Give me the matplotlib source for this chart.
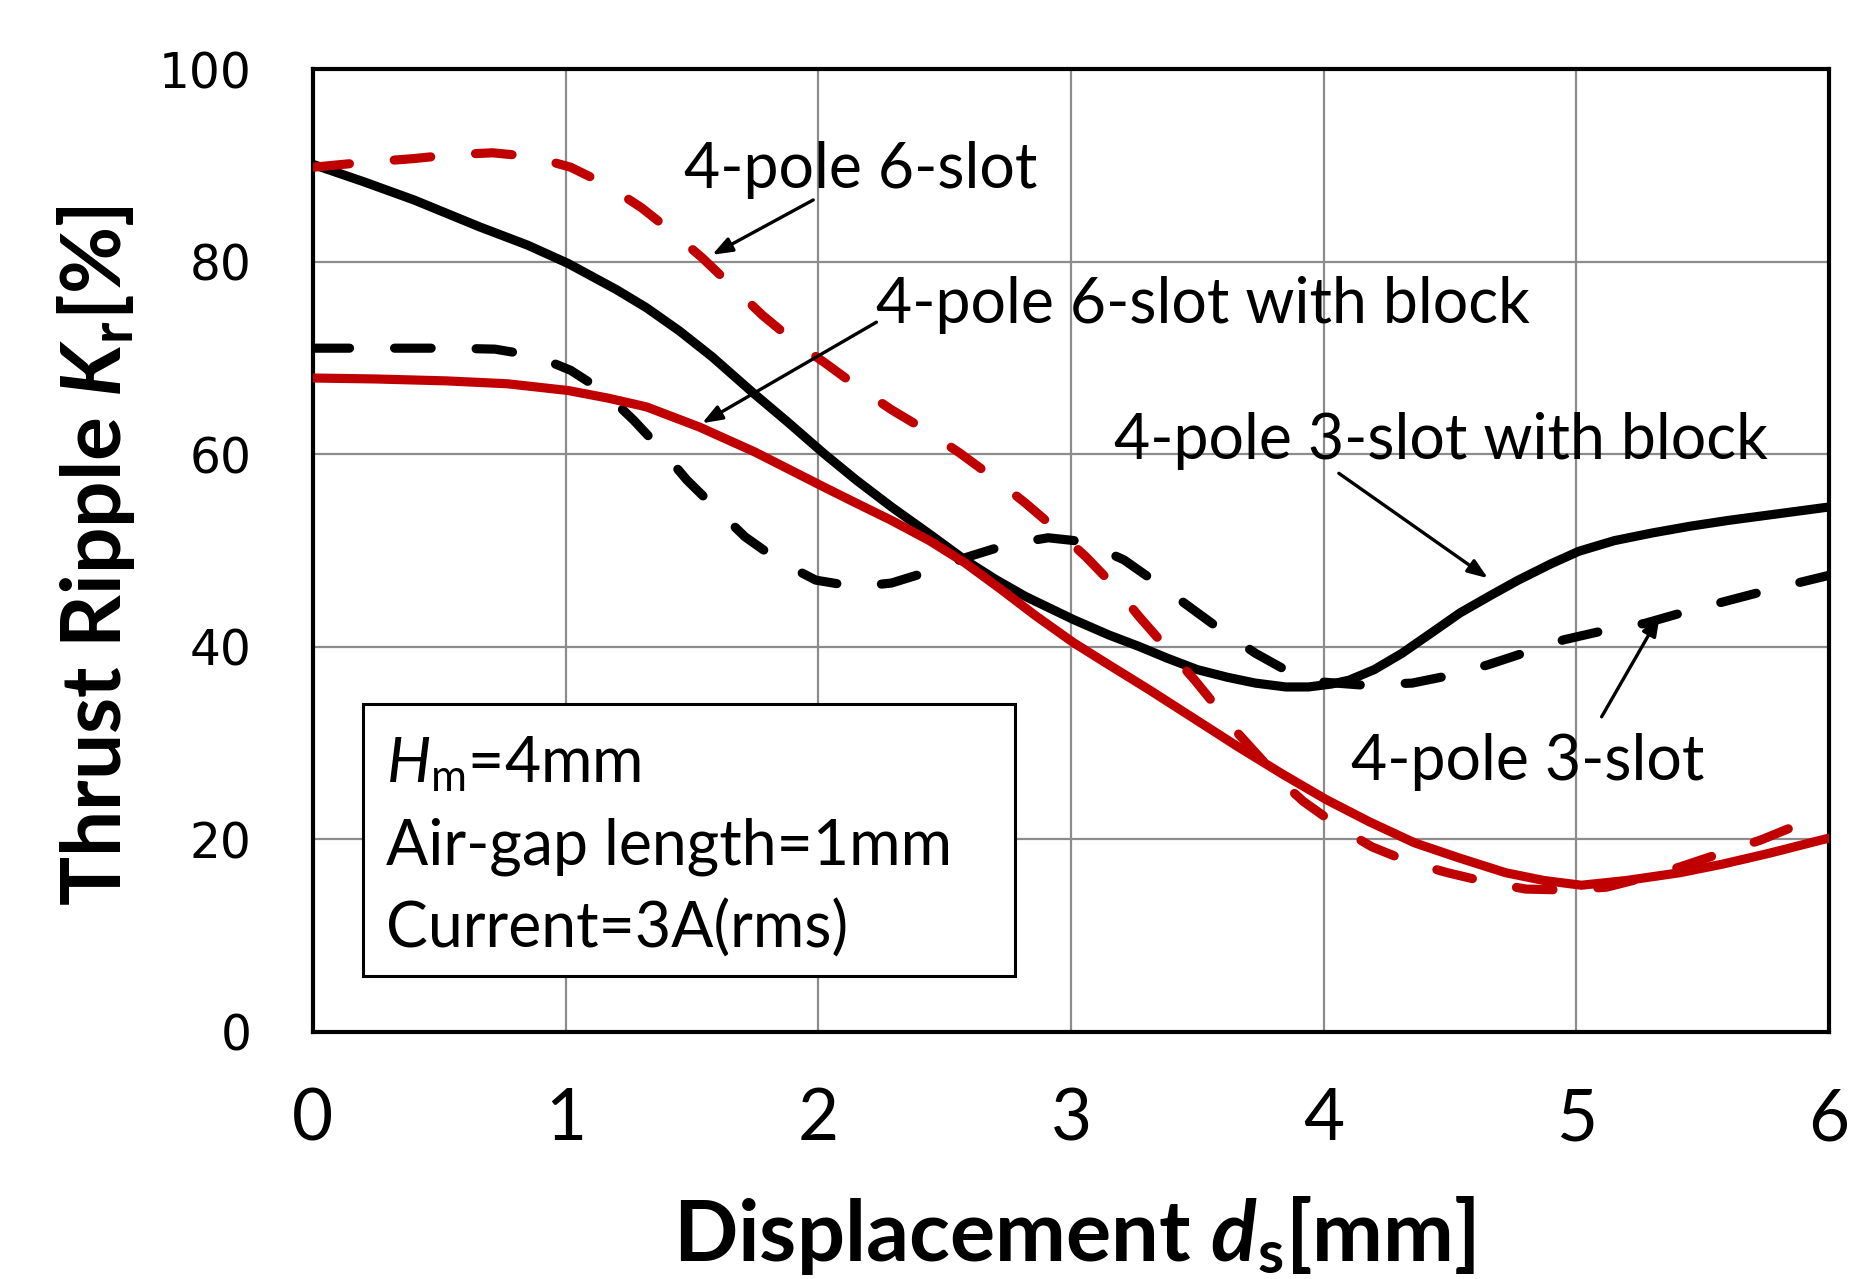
import matplotlib
matplotlib.use("Agg")
import matplotlib.pyplot as plt
from matplotlib import font_manager
from matplotlib.patches import Rectangle

names = {f.name for f in font_manager.fontManager.ttflist}
MAIN = "Lato" if "Lato" in names else "DejaVu Sans"

plt.rcParams['font.family'] = [MAIN, 'DejaVu Sans']
plt.rcParams['mathtext.fontset'] = 'custom'
plt.rcParams['mathtext.rm'] = MAIN
plt.rcParams['mathtext.it'] = MAIN + ':italic'
plt.rcParams['mathtext.bf'] = MAIN + ':bold'
plt.rcParams['mathtext.bfit'] = MAIN + ':bold:italic'

# ---- data ----
# 4-pole 3-slot with block (black solid)
x_3slot_block = [0, 0.2, 0.4, 0.66, 0.85, 1.01, 1.2, 1.32, 1.45, 1.58, 1.74, 1.88, 2.02, 2.15,
                 2.29, 2.45, 2.58, 2.7, 2.82, 3.01, 3.15, 3.27, 3.38, 3.5, 3.62, 3.73, 3.85,
                 3.94, 4.03, 4.1, 4.2, 4.31, 4.42, 4.54, 4.66, 4.77, 4.9, 5.01, 5.15, 5.3,
                 5.45, 5.6, 5.8, 6.0]
y_3slot_block = [90.1, 88.3, 86.4, 83.6, 81.7, 79.8, 77.1, 75.2, 72.8, 70.1, 66.4, 63.3, 60.1, 57.3,
                 54.5, 51.5, 49.0, 47.0, 45.2, 42.8, 41.2, 40.0, 38.8, 37.6, 36.8, 36.2, 35.8,
                 35.8, 36.1, 36.5, 37.6, 39.3, 41.3, 43.5, 45.3, 46.9, 48.6, 49.9, 51.0, 51.8,
                 52.5, 53.1, 53.8, 54.5]

# 4-pole 3-slot (black dashed)
x_3slot = [0, 0.3, 0.55, 0.72, 0.88, 1.02, 1.15, 1.27, 1.38, 1.48, 1.6, 1.71, 1.85, 1.99, 2.15,
           2.29, 2.45, 2.59, 2.75, 2.91, 3.05, 3.21, 3.34, 3.47, 3.6, 3.73, 3.86, 4.0, 4.15,
           4.35, 4.5, 4.65, 4.8, 4.95, 5.1, 5.27, 5.43, 5.59, 5.75, 5.89, 6.0]
y_3slot = [71.0, 71.0, 71.0, 70.9, 70.2, 68.7, 66.5, 63.5, 60.4, 57.3, 54.2, 51.4, 48.8, 46.9, 46.2,
           46.6, 47.9, 49.3, 50.6, 51.3, 50.9, 49.0, 46.6, 44.1, 41.6, 39.3, 37.4, 36.3, 36.0,
           36.2, 37.0, 38.1, 39.4, 40.7, 41.6, 42.4, 43.6, 44.7, 45.8, 46.7, 47.4]

# 4-pole 6-slot (red dashed)
x_6slot = [0, 0.2, 0.4, 0.55, 0.71, 0.87, 1.02, 1.16, 1.3, 1.42, 1.54, 1.66, 1.78, 1.9, 2.03,
           2.16, 2.29, 2.43, 2.56, 2.69, 2.82, 2.94, 3.06, 3.17, 3.27, 3.38, 3.49, 3.58, 3.66,
           3.75, 3.84, 3.92, 4.0, 4.1, 4.19, 4.34, 4.49, 4.65, 4.8, 4.96, 5.12, 5.27, 5.41,
           5.57, 5.73, 5.87, 6.0]
y_6slot = [89.8, 90.3, 90.7, 91.1, 91.3, 90.9, 89.8, 88.0, 85.6, 83.1, 80.4, 77.4, 74.4, 71.8, 69.4,
           66.9, 64.6, 62.4, 60.1, 57.6, 54.9, 52.2, 49.3, 46.3, 43.1, 39.8, 36.5, 33.6, 31.0,
           28.4, 25.8, 23.9, 22.4, 20.6, 19.2, 17.6, 16.5, 15.5, 14.8, 14.7, 15.0, 16.0, 17.1,
           18.5, 19.9, 21.4, 22.9]

# 4-pole 6-slot with block (red solid)
x_6slot_block = [0, 0.25, 0.53, 0.77, 1.01, 1.17, 1.32, 1.53, 1.75, 2.02, 2.15, 2.29, 2.44, 2.58,
                 2.72, 2.86, 3.01, 3.15, 3.31, 3.5, 3.66, 3.84, 4.01, 4.18, 4.36, 4.54, 4.72,
                 4.87, 5.02, 5.2, 5.41, 5.58, 5.76, 6.0]
y_6slot_block = [67.9, 67.8, 67.6, 67.3, 66.6, 65.8, 64.9, 62.8, 60.2, 56.6, 54.9, 53.1, 51.0, 48.7,
                 46.0, 43.2, 40.4, 38.1, 35.5, 32.3, 29.6, 26.7, 24.1, 21.8, 19.6, 18.0, 16.5,
                 15.7, 15.2, 15.7, 16.5, 17.4, 18.5, 20.1]

x_ticks = [0, 1, 2, 3, 4, 5, 6]
y_ticks = [0, 20, 40, 60, 80, 100]

RED = "#C00000"

fig = plt.figure(figsize=(18.66, 12.79), dpi=100)
ax = fig.add_axes([0.1677, 0.1935, 0.8125, 0.7525])

lw = 6.6
dash = (4.0, 4.9)
ax.plot(x_3slot_block, y_3slot_block, color="black", lw=lw, solid_capstyle='round',
        solid_joinstyle='round', zorder=4)
ax.plot(x_3slot, y_3slot, color="black", lw=lw, dashes=dash, dash_capstyle='round',
        dash_joinstyle='round', zorder=4)
ax.plot(x_6slot, y_6slot, color=RED, lw=lw, dashes=dash, dash_capstyle='round',
        dash_joinstyle='round', zorder=4)
ax.plot(x_6slot_block, y_6slot_block, color=RED, lw=lw, solid_capstyle='round',
        solid_joinstyle='round', zorder=4)

ax.set_xlim(0, 6)
ax.set_ylim(0, 100)
ax.set_xticks(x_ticks)
ax.set_yticks(y_ticks)
ax.set_xticklabels([str(v) for v in x_ticks], fontsize=51)
ax.set_yticklabels([str(v) for v in y_ticks], fontfamily='DejaVu Sans', fontsize=35)
ax.tick_params(axis='both', length=0)
ax.tick_params(axis='x', pad=40)
ax.tick_params(axis='y', pad=44)
ax.grid(True, color="#8c8c8c", lw=1.6, zorder=0)
ax.set_axisbelow(True)
for s in ax.spines.values():
    s.set_linewidth(3.0)
    s.set_color("black")

ax.set_xlabel(r"Displacement $\mathbfit{d}_\mathbf{s}$[mm]", fontsize=61, fontweight='bold',
              va='baseline')
ax.xaxis.set_label_coords(0.502, -0.238)
ax.set_ylabel(r"Thrust Ripple $\mathbfit{K}_\mathbf{r}$[%]", fontsize=59, fontweight='bold',
              va='center')
ax.yaxis.set_label_coords(-0.143, 0.494)

# info box
ax.add_patch(Rectangle((0.2, 5.8), 2.58, 28.2, facecolor="white", edgecolor="black", lw=2.2, zorder=3))
box_fs = 45
ax.text(0.29, 27.8, r"$H_\mathrm{m}$=4mm", fontsize=box_fs, va='center', ha='left', zorder=5)
ax.text(0.29, 19.2, "Air-gap length=1mm", fontsize=box_fs, va='center', ha='left', zorder=5)
ax.text(0.29, 10.6, "Current=3A(rms)", fontsize=box_fs, va='center', ha='left', zorder=5)

arrow = dict(arrowstyle='-|>,head_length=1.2,head_width=0.45', color='black', lw=2.4,
             shrinkA=0, shrinkB=0)
ann_fs = 45
ax.text(1.47, 89.5, "4-pole 6-slot", fontsize=ann_fs, va='center', ha='left', zorder=5)
ax.annotate("", xy=(1.58, 80.7), xytext=(1.98, 86.4), arrowprops=arrow, zorder=5)
ax.text(2.23, 75.5, "4-pole 6-slot with block", fontsize=ann_fs, va='center', ha='left', zorder=5)
ax.annotate("", xy=(1.54, 63.2), xytext=(2.23, 73.7), arrowprops=arrow, zorder=5)
ax.text(3.17, 61.4, "4-pole 3-slot with block", fontsize=ann_fs, va='center', ha='left', zorder=5)
ax.annotate("", xy=(4.65, 47.1), xytext=(4.06, 58.0), arrowprops=arrow, zorder=5)
ax.text(4.11, 28.0, "4-pole 3-slot", fontsize=ann_fs, va='center', ha='left', zorder=5)
ax.annotate("", xy=(5.33, 43.2), xytext=(5.10, 32.7), arrowprops=arrow, zorder=5)

fig.savefig("out.png", dpi=100)
